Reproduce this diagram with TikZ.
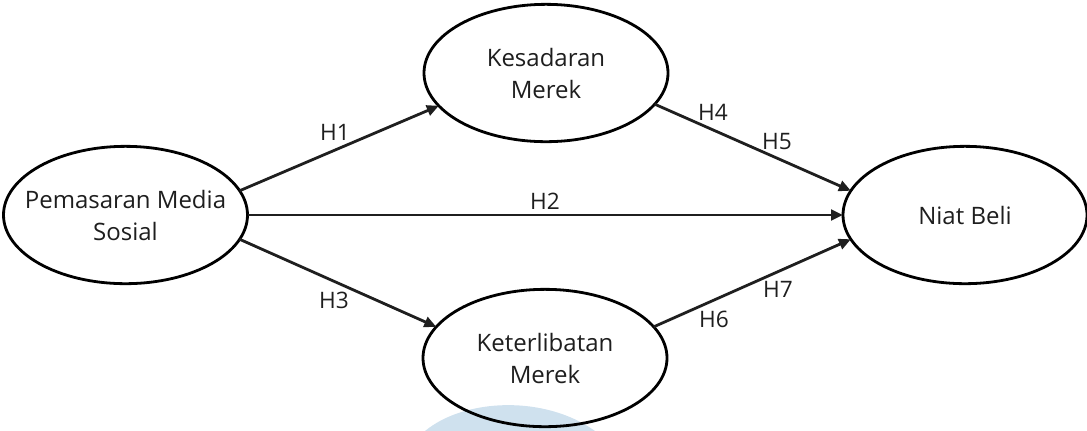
\documentclass[tikz,border=0pt]{standalone}
\usepackage{fontspec}
\setmainfont{Open Sans}
\usetikzlibrary{shapes.geometric,arrows.meta}
\definecolor{wm}{HTML}{CFE1EE}
\definecolor{txt}{HTML}{1E1E1E}
\begin{document}
\begin{tikzpicture}[x=0.75pt,y=-0.75pt,
  oval/.style={ellipse,draw=black,line width=2.1pt,minimum width=183pt,minimum height=103pt,inner sep=0pt,outer sep=0pt},
  lbl/.style={font=\fontsize{18}{24}\selectfont,text=txt,align=center,inner sep=0pt},
  hyp/.style={font=\fontsize{17}{20}\selectfont,text=txt,inner sep=0pt},
  arr/.style={line width=2.1pt,draw=black!88,-{Triangle[length=9pt,width=8pt]}}]
\useasboundingbox (0,0) rectangle (1087,430);
\fill[wm] (425,431) .. controls (465,398) and (545,395) .. (595,431) -- cycle;
\node[oval] (pms) at (125.5,215) {};
\node[oval] (kes) at (546,73) {};
\node[oval] (ket) at (545,358) {};
\node[oval] (niat) at (965,215) {};
\node[lbl] (pmst) at (pms) {Pemasaran Media\\Sosial};
\node[lbl] (kest) at (kes) {Kesadaran\\Merek};
\node[lbl] (kett) at (ket) {Keterlibatan\\Merek};
\node[lbl] (niatt) at (niat) {Niat Beli};
\draw[arr] (pms.12) -- (kes.197.5);
\draw[arr] (pms.0) -- (niat.180);
\draw[arr] (pms.-12) -- (ket.164);
\draw[arr] (kes.-16) -- (niat.168);
\draw[arr] (ket.16) -- (niat.192);
\node[hyp] (h1) at (335,132) {H1};
\node[hyp] (h2) at (545,201) {H2};
\node[hyp] (h3) at (334,300) {H3};
\node[hyp] (h4) at (713,112) {H4};
\node[hyp] (h5) at (777,142) {H5};
\node[hyp] (h6) at (714,319) {H6};
\node[hyp] (h7) at (778,289) {H7};
\end{tikzpicture}
\end{document}
